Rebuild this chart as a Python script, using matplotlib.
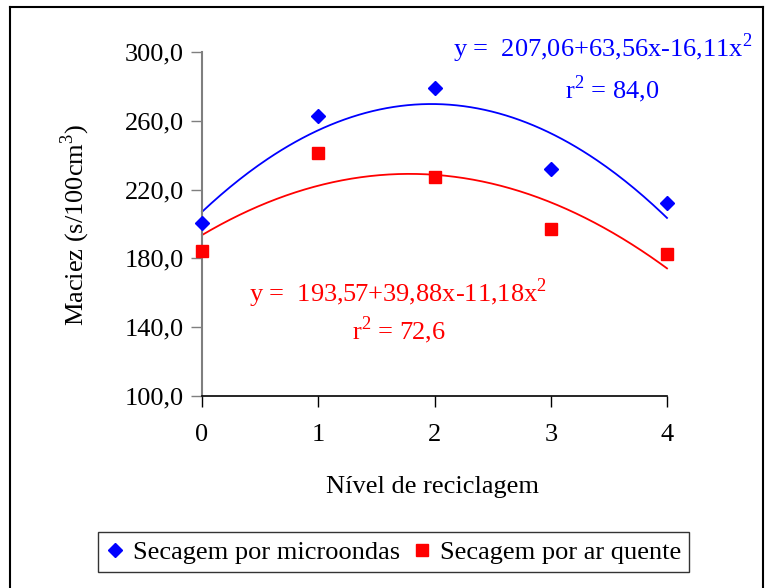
import numpy as np
import matplotlib
matplotlib.use("Agg")
import matplotlib.pyplot as plt
from matplotlib.lines import Line2D

plt.rcParams['font.family'] = ['Liberation Serif', 'DejaVu Serif']
plt.rcParams['mathtext.fontset'] = 'custom'
plt.rcParams['mathtext.rm'] = 'Liberation Serif'

# Data
niveis = [0, 1, 2, 3, 4]
microondas = [200.6, 262.8, 278.9, 232.0, 212.4]
ar_quente = [184.3, 241.0, 227.5, 197.0, 182.4]

# Quadratic fits (a + b*x + c*x^2)
coef_micro = (207.06, 63.56, -16.11)
coef_ar = (193.57, 39.88, -11.18)
r2_micro = "84,0"
r2_ar = "72,6"

yticks = [100, 140, 180, 220, 260, 300]

W, H = 765, 588
FS = 19
fig = plt.figure(figsize=(W / 100, H / 100), dpi=100)
ax = fig.add_axes([202 / W, 1 - 396 / H, (667 - 202) / W, (396 - 52) / H])

xs = np.linspace(0, 4, 200)
for coef, col in [(coef_micro, 'blue'), (coef_ar, 'red')]:
    a, b, c = coef
    ax.plot(xs, a + b * xs + c * xs ** 2, color=col, lw=1.3, clip_on=False)

ax.plot(niveis, microondas, 'D', color='blue', ms=7, clip_on=False, zorder=5)
ax.plot(niveis, ar_quente, 's', color='red', ms=8.5, clip_on=False, zorder=5)

ax.set_xlim(0, 4)
ax.set_ylim(100, 300)
ax.set_xticks(niveis)
ax.set_yticks(yticks)
ax.set_yticklabels([f"{v:.1f}".replace('.', ',') for v in yticks])
ax.tick_params(axis='both', labelsize=FS, direction='out', length=8, width=1)
ax.tick_params(axis='x', pad=12)
ax.tick_params(axis='y', pad=5, colors='#7f7f7f', labelcolor='black')
for s in ['top', 'right']:
    ax.spines[s].set_visible(False)
ax.spines['left'].set_color('#7f7f7f')
ax.spines['left'].set_linewidth(1.5)
ax.spines['bottom'].set_linewidth(1.2)

def fx(px):
    return px / W

def fy(py):
    return 1 - py / H

fig.text(fx(75), fy(225), 'Maciez (s/100cm$^3$)', rotation=90, ha='center', va='center', fontsize=FS)
fig.text(fx(432), fy(487), 'Nível de reciclagem', ha='center', va='center', fontsize=FS)

def eq_text(coef):
    a, b, c = coef
    s = f"y =  {a:.2f}+{b:.2f}x-{abs(c):.2f}x".replace('.', ',')
    return s + r'$^2$'

fig.text(fx(752), fy(48), eq_text(coef_micro), ha='right', va='center', fontsize=FS, color='blue')
fig.text(fx(612), fy(89), r'r$^2$ = ' + r2_micro, ha='center', va='center', fontsize=FS, color='blue')
fig.text(fx(398), fy(293), eq_text(coef_ar), ha='center', va='center', fontsize=FS, color='red')
fig.text(fx(399), fy(330), r'r$^2$ = ' + r2_ar, ha='center', va='center', fontsize=FS, color='red')

handles = [
    Line2D([], [], ls='none', marker='D', color='blue', ms=7),
    Line2D([], [], ls='none', marker='s', color='red', ms=8.5),
]
leg = fig.legend(handles, ['Secagem por microondas', 'Secagem por ar quente'],
                 loc='center', bbox_to_anchor=(fx(393.5), fy(552)), ncol=2,
                 fontsize=FS, frameon=True, fancybox=False, edgecolor='black',
                 handlelength=0.7, handletextpad=0.35, columnspacing=0.45,
                 borderpad=0.3, borderaxespad=0)
leg.get_frame().set_linewidth(1)

# outer border
for (x0, y0, x1, y1) in [(10, 7, 10, H), (10, 7, 763, 7), (763, 7, 763, H)]:
    fig.add_artist(Line2D([fx(x0), fx(x1)], [fy(y0), fy(y1)], color='black', lw=1.5))

fig.savefig('out.png', dpi=100)
